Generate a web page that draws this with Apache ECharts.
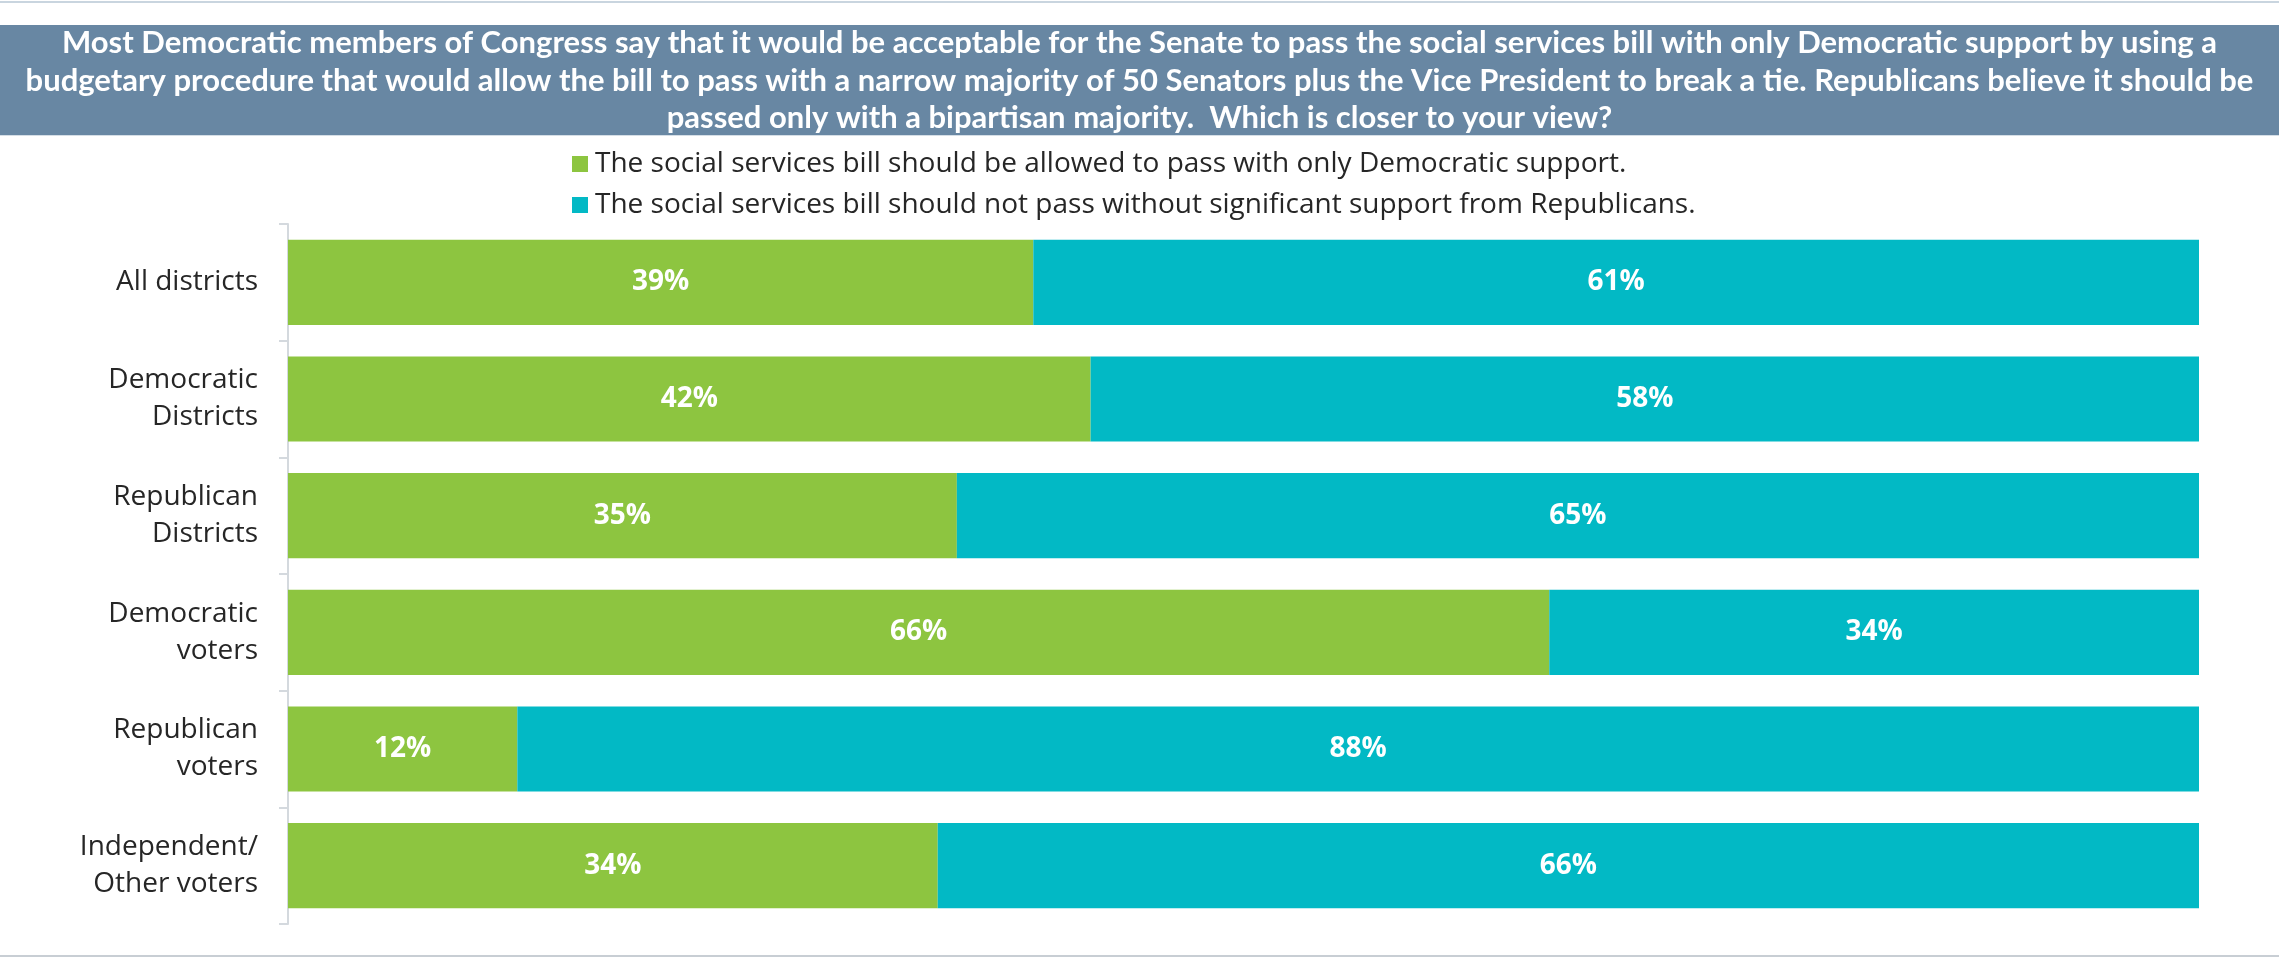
<!DOCTYPE html>
<html>
<head>
<meta charset="utf-8">
<script src="https://cdn.jsdelivr.net/npm/echarts@6/dist/echarts.min.js"></script>
<style>
  html, body { margin: 0; padding: 0; background: #ffffff; }
  #chart { width: 2279px; height: 958px; }
</style>
</head>
<body>
<div id="chart"></div>
<script>
// Survey groups (top to bottom)
const categories = [
  'All districts',
  'Democratic\nDistricts',
  'Republican\nDistricts',
  'Democratic\nvoters',
  'Republican\nvoters',
  'Independent/\nOther voters'
];

// Share answering each option, in percent
const allowPartisan = [39, 42, 35, 66, 12, 34];
const requireBipartisan = [61, 58, 65, 34, 88, 66];

const seriesNames = [
  'The social services bill should be allowed to pass with only Democratic support.',
  'The social services bill should not pass without significant support from Republicans.'
];

const questionLines = [
  'Most Democratic members of Congress say that it would be acceptable for the Senate to pass the social services bill with only Democratic support by using a',
  'budgetary procedure that would allow the bill to pass with a narrow majority of 50 Senators plus the Vice President to break a tie. Republicans believe it should be',
  'passed only with a bipartisan majority.  Which is closer to your view?'
];

const GREEN = '#8DC540';
const TEAL = '#02B9C5';

const chart = echarts.init(document.getElementById('chart'), null, { renderer: 'canvas' });

const valueLabel = {
  show: true,
  position: 'inside',
  formatter: '{c}%',
  color: '#ffffff',
  fontFamily: 'Open Sans',
  fontWeight: 'bold',
  fontSize: 28
};

chart.setOption({
  backgroundColor: '#ffffff',
  animation: false,
  graphic: [
    { type: 'rect', left: 0, top: 1, shape: { width: 2279, height: 2 }, style: { fill: '#C9D5DF' }, silent: true },
    { type: 'rect', left: 0, top: 25, shape: { width: 2279, height: 110 }, style: { fill: '#6887A3' }, silent: true },
    { type: 'rect', left: 0, top: 135, shape: { width: 2279, height: 1 }, style: { fill: '#D5DEE6' }, silent: true },
    { type: 'rect', left: 0, top: 955, shape: { width: 2279, height: 2 }, style: { fill: '#C8CED4' }, silent: true },
    // question banner text, one centred line at a time
    ...questionLines.map((line, i) => ({
      type: 'text',
      x: 1139.5,
      y: 43 + i * 37.5,
      silent: true,
      style: {
        text: line,
        align: 'center',
        verticalAlign: 'middle',
        fill: '#ffffff',
        font: 'bold 31px Lato'
      }
    }))
  ],
  legend: {
    orient: 'vertical',
    left: 567,
    top: 144,
    itemWidth: 16,
    itemHeight: 16,
    itemGap: 11,
    icon: 'rect',
    data: seriesNames,
    textStyle: {
      color: '#262626',
      fontFamily: 'Open Sans',
      fontSize: 28,
      lineHeight: 30,
      padding: [0, 0, 0, 2]
    }
  },
  grid: {
    left: 288,
    right: 80,
    top: 224,
    bottom: 34,
    containLabel: false
  },
  xAxis: {
    type: 'value',
    min: 0,
    max: 100,
    show: false
  },
  yAxis: {
    type: 'category',
    data: categories,
    inverse: true,
    axisLine: { show: true, lineStyle: { color: '#D4D9DE', width: 2 } },
    axisTick: { show: true, length: 9, lineStyle: { color: '#D4D9DE', width: 2 } },
    axisLabel: {
      margin: 30,
      color: '#262626',
      fontFamily: 'Open Sans',
      fontSize: 28,
      lineHeight: 37,
      align: 'right'
    },
    splitLine: { show: false }
  },
  series: [
    {
      name: seriesNames[0],
      type: 'bar',
      stack: 'total',
      data: allowPartisan,
      barCategoryGap: '27%',
      itemStyle: { color: GREEN },
      label: valueLabel
    },
    {
      name: seriesNames[1],
      type: 'bar',
      stack: 'total',
      data: requireBipartisan,
      barCategoryGap: '27%',
      itemStyle: { color: TEAL },
      label: valueLabel
    }
  ]
});
</script>
</body>
</html>
